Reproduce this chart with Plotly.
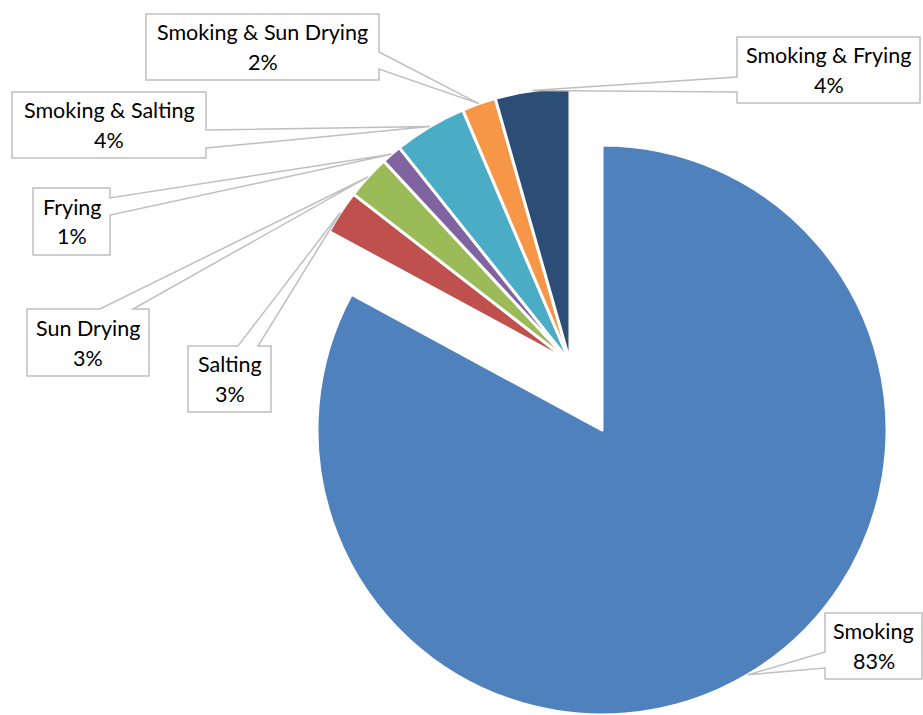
import math
import plotly.graph_objects as go

# Fish processing methods and their share of respondents (%)
methods = ["Smoking", "Salting", "Sun Drying", "Frying",
           "Smoking & Salting", "Smoking & Sun Drying", "Smoking & Frying"]
shares = [82.9, 2.6, 2.6, 1.2, 4.3, 2.0, 4.4]
colors = ["#4F81BD", "#C0504D", "#9BBB59", "#8064A2",
          "#4BACC6", "#F79646", "#2C4D75"]

W, H = 923, 715
CLEAR = "rgba(0,0,0,0)"

# Pie geometry in page pixels: the main pie and the exploded "Smoking" wedge
MAIN_C, MAIN_R = (570, 362), 274
EXPL_C, EXPL_R = (602, 430), 285


def domain(center, r):
    cx, cy = center
    return dict(x=[(cx - r) / W, (cx + r) / W],
                y=[max(0.0, (H - cy - r) / H), min(1.0, (H - cy + r) / H)])


def px(x, y):
    return f"{x / W:.5f},{1 - y / H:.5f}"


exploded = [m == "Smoking" for m in methods]

fig = go.Figure()
# exploded slice
fig.add_trace(go.Pie(
    labels=methods, values=shares, sort=False, direction="clockwise", rotation=0,
    marker=dict(colors=[c if e else CLEAR for c, e in zip(colors, exploded)],
                line=dict(color=["white" if e else CLEAR for e in exploded], width=3)),
    textinfo="none", hoverinfo="label+percent", showlegend=False,
    domain=domain(EXPL_C, EXPL_R),
))
# remaining slices
fig.add_trace(go.Pie(
    labels=methods, values=shares, sort=False, direction="clockwise", rotation=0,
    marker=dict(colors=[CLEAR if e else c for c, e in zip(colors, exploded)],
                line=dict(color=[CLEAR if e else "white" for e in exploded], width=3)),
    textinfo="none", hoverinfo="label+percent", showlegend=False,
    domain=domain(MAIN_C, MAIN_R),
))

# Callout boxes: (x0, y0, x1, y1), side carrying the pointer, pointer base positions
callouts = {
    "Smoking": ((825, 613, 922, 679), "left", (652, 668)),
    "Salting": ((188, 346, 271, 412), "top", (238, 258)),
    "Sun Drying": ((27, 309, 149, 376), "top", (100, 133)),
    "Frying": ((33, 188, 110, 255), "right", (198, 215)),
    "Smoking & Salting": ((12, 92, 206, 158), "right", (130, 148)),
    "Smoking & Sun Drying": ((146, 14, 379, 80), "right", (52, 69)),
    "Smoking & Frying": ((737, 37, 920, 103), "left", (77, 92)),
}

total = sum(shares)
shapes, annotations = [], []
cum = 0.0
font = dict(family="Lato, 'Open Sans', sans-serif", size=21.5, color="#000000")
for name, val, e in zip(methods, shares, exploded):
    mid = (cum + val / 2) / total * 2 * math.pi
    cum += val
    (cx, cy), r = (EXPL_C, EXPL_R) if e else (MAIN_C, MAIN_R)
    tx, ty = cx + r * math.sin(mid), cy - r * math.cos(mid)

    (x0, y0, x1, y1), side, (a, b) = callouts[name]
    if side == "right":
        pts = [(x0, y0), (x1, y0), (x1, a), (tx, ty), (x1, b), (x1, y1), (x0, y1)]
    elif side == "left":
        pts = [(x0, y0), (x1, y0), (x1, y1), (x0, y1), (x0, b), (tx, ty), (x0, a)]
    else:  # top
        pts = [(x0, y0), (a, y0), (tx, ty), (b, y0), (x1, y0), (x1, y1), (x0, y1)]
    path = "M " + " L ".join(px(x, y) for x, y in pts) + " Z"
    shapes.append(dict(type="path", path=path, xref="paper", yref="paper",
                       fillcolor="white", line=dict(color="#BFBFBF", width=1.5)))

    bx, by = (x0 + x1) / 2, (y0 + y1) / 2
    pct = f"{round(val / total * 100)}%"
    for text, dy in ((name, -15), (pct, 15)):
        annotations.append(dict(text=text, x=bx / W, y=1 - (by + dy) / H,
                                xref="paper", yref="paper", showarrow=False,
                                xanchor="center", yanchor="middle", font=font))

fig.update_layout(
    width=W, height=H,
    margin=dict(l=0, r=0, t=0, b=0),
    paper_bgcolor="white", plot_bgcolor="white",
    shapes=shapes, annotations=annotations,
)

fig.write_html("out.html")
